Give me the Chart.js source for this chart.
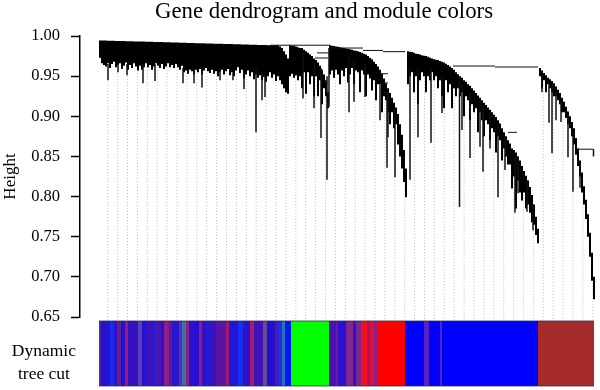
<!DOCTYPE html>
<html><head><meta charset="utf-8">
<style>html,body{margin:0;padding:0;background:#fff}canvas{display:block}</style>
<script src="https://cdn.jsdelivr.net/npm/chart.js@4"></script></head>
<body><canvas id="c" width="600" height="390"></canvas>
<script>
const chartTitle = "Gene dendrogram and module colors";
const yAxisTitle = "Height";
const stripLabel = ["Dynamic", "tree cut"];
const columnStep = 2;
// heights of the top of the dendrogram, one per column
const treeTops = [
.9945,.9944,.9943,.9943,.9942,.9941,.9941,.9940,.9939,.9939,.9938,.9937,.9937,.9936,.9935,.9935,.9934,.9933,.9933,.9932,
.9931,.9931,.9930,.9929,.9929,.9928,.9927,.9926,.9926,.9925,.9924,.9924,.9923,.9922,.9921,.9921,.9920,.9919,.9919,.9918,
.9917,.9916,.9916,.9915,.9914,.9914,.9913,.9912,.9911,.9911,.9910,.9909,.9909,.9908,.9907,.9906,.9906,.9905,.9904,.9904,
.9903,.9902,.9901,.9901,.9900,.9899,.9899,.9898,.9897,.9896,.9896,.9895,.9894,.9894,.9893,.9892,.9891,.9891,.9890,.9889,
.9889,.9888,.9887,.9887,.9886,.9886,.9885,.9885,.9884,.9884,
.987,.985,.981,.977,.972,
.9885,.988,.9875,.987,.986,.985,.985,.983,.981,.979,.977,.975,.972,.970,.967,.963,.958,.952,.945,.930,
.9885,.988,.9875,.987,.9865,.986,.9855,.985,.9845,.984,.9835,.983,.982,.9815,.981,.980,.979,.978,.977,.975,.973,.971,.968,.965,.962,
.958,.953,.947,.941,.935,.929,.923,.917,.911,.903,.890,.877,.858,.835,
.981,.9805,.980,.979,.978,.9775,.977,.976,.9755,.975,.974,.973,.972,.971,.9705,.970,.969,.968,.967,.9655,.964,.962,.960,.958,.955,.9525,.950,.948,.945,.943,.940,.938,.935,.932,.929,.926,.923,.920,.917,.914,.911,.908,.905,.902,.899,.895,.891,.885,.880,.875,.870,.866,.860,.858,.855,.850,.845,.838,.832,.826,.820,.812,.802,.790,.775,.760,
.960,.957,.954,.951,.948,.946,.944,.941,.937,.933,.929,.923,.918,.912,.906,.900,.893,.885,.873,.860,.845,.830,.813,.796,.778,.755,.730,.700];
// heights of the bottom of the dendrogram, one per column
const treeLows = [
.973,.966,.964,.962,.966,.960,.965,.968,.961,.964,.966,.959,.963,.967,.958,.964,.960,.966,.962,.957,.963,.958,.961,.966,.961,.964,.958,.962,.966,.963,.960,.965,.959,.962,.966,.961,.964,.960,.965,.961,.958,.963,.955,.957,.953,.958,.956,.952,.958,.955,.959,.952,.957,.960,.956,.954,.958,.953,.956,.950,.955,.958,.952,.956,.959,.951,.955,.950,.957,.961,.954,.958,.947,.952,.957,.950,.955,.946,.952,.948,.951,.945,.949,.943,.950,.955,.948,.952,.944,.950,
.945,.940,.935,.930,.928,
.950,.953,.948,.951,.945,.950,.935,.955,.928,.955,.940,.950,.925,.950,.925,.945,.915,.935,.925,.910,
.952,.957,.948,.958,.952,.940,.957,.950,.960,.942,.952,.960,.940,.957,.955,.930,.957,.952,.925,.952,.947,.932,.945,.920,.940,
.940,.905,.925,.920,.905,.890,.905,.885,.890,.865,.850,.835,.818,.799,
.940,.950,.955,.930,.950,.915,.945,.955,.950,.930,.950,.945,.955,.945,.950,.935,.945,.925,.910,.945,.930,.940,.910,.935,.925,.935,.925,.930,.900,.925,.920,.895,.915,.905,.910,.880,.905,.895,.875,.895,.890,.870,.885,.880,.855,.875,.870,.845,.860,.850,.840,.840,.810,.825,.785,.820,.805,.795,.805,.785,.790,.780,.768,.765,.752,.742,
.950,.935,.945,.930,.940,.935,.930,.925,.925,.920,.915,.905,.905,.898,.890,.885,.875,.865,.852,.838,.825,.805,.790,.772,.750,.725,.695,.672];
// long single branches
const spikePos = [8,18,27,43,55,83,94,102,120,133,144,156,162,165,203,214,221,227,229,249,254,265,280,287,288,295,310,318,331,342,359.5,362,370,380,383,390,398,405,415,418,427,433,442,449,452,456,461,468,473,480,493.5];
const spikeTops = [.965,.965,.965,.965,.965,.96,.96,.96,.96,.955,.955,.96,.955,.955,.98,.965,.96,.95,.985,.975,.97,.965,.94,.93,.93,.91,.96,.96,.96,.95,.945,.94,.93,.92,.915,.905,.89,.875,.85,.85,.82,.79,.955,.94,.94,.93,.92,.90,.885,.84,.859];
const spikeLows = [.945,.955,.951,.941,.944,.941,.941,.936,.945,.945,.934,.880,.920,.924,.922,.910,.873,.821,.912,.905,.918,.924,.895,.836,.874,.824,.821,.874,.867,.904,.787,.883,.848,.862,.831,.860,.799,.833,.780,.804,.781,.758,.930,.892,.854,.895,.893,.849,.806,.811,.850];
// horizontal merges: start, end, height
const mergeStart = [170,230,263,283,217,215,280,282,283,353,395,408,478];
const mergeEnd = [230,263,283,305,230,228,288,288,287,395,438,417,493.5];
const mergeHeight = [.9885,.985,.982,.9805,.979,.9726,.953,.9415,.930,.9626,.9614,.880,.859];
// dotted guide lines
const guidePos = [7.7,17.6,27.5,37.4,47.3,57.2,67.1,77,86.9,96.8,106.7,116.6,126.5,136.4,146.3,156.2,166.1,176,185.9,195.8,205.7,215.6,225.5,235.4,245.3,255.2,265.1,275,284.9,294.8,304.7,314.6,324.5,334.4,344.3,354.2,364.1,374,383.9,393.8,403.7,413.6,423.5,433.4,443.3,453.2,463.1,473,482.9,492.8];
const guideTops = [.98,.98,.98,.98,.98,.98,.98,.98,.98,.98,.98,.98,.98,.98,.98,.98,.98,.98,.975,.97,.97,.965,.93,.975,.975,.975,.97,.96,.94,.91,.83,.97,.97,.97,.96,.95,.94,.925,.915,.90,.88,.85,.825,.78,.95,.94,.915,.885,.81,.70];
// module colour runs of the Dynamic tree cut strip
const stripColors = ["#4a2aa0","#2a10d0","#1030f0","#3010c8","#602090","#2010d0","#a01870","#3510c0","#5a40b0","#2010d8","#3a10c0","#1525e0","#4a15b0","#2a10d0","#901f80","#5020a0","#2a15d0","#5a30a0","#3a70b0","#8a2080","#2a10d0",
"#2010d8","#a01870","#3010c8","#2818d0","#3a10c0","#5a15a0","#a01870","#2015d8","#1530f0","#3010c8","#a02070","#4012b8","#6a4a90","#2010d0","#5a15a0","#2030e0","#2a70c0","#0818f0",
"#00ff00","#4a10b0","#6a18a0","#3010d0","#802890","#3a10c0","#7a2890","#f01020","#a01860","#e01030","#8a2090","#ff0000","#0000ff","#5a20c0","#0000f8","#5a20c0","#0000ff","#a52a2a"];
const stripWidths = [2,9,4,3,4,4,3,10,4,3,8,3,5,3,5,3,7,3,4,3,6,
4,3,4,5,5,10,3,9,5,7,4,9,4,8,3,4,3,6,
38,7,2,8,7,3,5,6,3,4,3,28,19,5,11,2,96,56];
const stripEdges = [0,1];

const treeData = treeTops.map((t,i)=>({x:i*columnStep,y:[treeLows[i],t]}));
const spikeData = spikePos.map((p,i)=>({x:p,y:[spikeLows[i],spikeTops[i]]}));
const mergeData = [];
mergeStart.forEach((s,i)=>{mergeData.push({x:s,y:mergeHeight[i]},{x:mergeEnd[i],y:mergeHeight[i]},{x:mergeEnd[i],y:null});});
const guideData = [];
guidePos.forEach((p,i)=>{guideData.push({x:p,y:guideTops[i]},{x:p,y:.6465},{x:p,y:null});});
const stripData = [], stripFill = [];
let col = -0.5;
stripWidths.forEach((w,i)=>{for(let k=0;k<w;k++){stripData.push({x:col+k,y:[0,1]});stripFill.push(stripColors[i]);}col+=w;});
const edgeData = [];
stripEdges.forEach(e=>{edgeData.push({x:-1,y:e},{x:col-0.5,y:e},{x:col,y:null});});

const serif = "'Liberation Serif', serif";
new Chart(document.getElementById('c'),{
  type:'bar',
  data:{datasets:[
    {label:'Guides',type:'line',data:guideData,borderColor:'#bdbdbd',borderWidth:1,borderDash:[1,2],pointRadius:0,spanGaps:false,clip:false,order:5,yAxisID:'y',xAxisID:'x'},
    {label:'Branches',data:treeData,backgroundColor:'#000',barThickness:columnStep,grouped:false,inflateAmount:0,order:3,yAxisID:'y',xAxisID:'x'},
    {label:'Single branches',data:spikeData,backgroundColor:'#111',barThickness:1.5,grouped:false,inflateAmount:0,order:2,yAxisID:'y',xAxisID:'x'},
    {label:'Merges',type:'line',data:mergeData,borderColor:'#111',borderWidth:1,pointRadius:0,spanGaps:false,order:1,yAxisID:'y',xAxisID:'x'},
    {label:'Modules',data:stripData,backgroundColor:stripFill,barThickness:1,grouped:false,inflateAmount:0,order:4,yAxisID:'yStrip',xAxisID:'x'},
    {label:'Strip edge',type:'line',data:edgeData,borderColor:'rgba(40,40,70,.75)',borderWidth:1,pointRadius:0,spanGaps:false,clip:false,order:1,yAxisID:'yStrip',xAxisID:'x'}
  ]},
  options:{
    responsive:false,animation:false,
    layout:{padding:{top:0,right:0,bottom:4,left:0}},
    plugins:{
      legend:{display:false},tooltip:{enabled:false},
      title:{display:true,text:chartTitle,color:'#000',font:{family:serif,size:22.8,weight:'normal',lineHeight:1},padding:{top:1,bottom:12.2}}
    },
    scales:{
      x:{type:'linear',display:false,min:-20,max:500,offset:false},
      y:{type:'linear',position:'left',stack:'v',stackWeight:281,weight:2,min:.65,max:1,
        afterFit(s){s.width=80;s.paddingTop=0;s.paddingBottom=0;},
        title:{display:true,text:yAxisTitle,color:'#000',font:{family:serif,size:17},padding:{top:0,bottom:0}},
        border:{display:true,color:'#000',width:1.5},
        grid:{display:true,drawOnChartArea:false,drawTicks:true,tickLength:9,tickWidth:1.5,tickColor:'#000'},
        ticks:{stepSize:.05,autoSkip:false,color:'#000',font:{family:serif,size:16.5},padding:11,callback:v=>v.toFixed(2)}},
      yStrip:{type:'linear',position:'left',stack:'v',stackWeight:69,weight:1,min:0,max:1.0615,
        afterFit(s){s.width=80;s.paddingTop=0;s.paddingBottom=0;},
        afterBuildTicks(s){s.ticks=[{value:.36}];},
        border:{display:false},
        grid:{display:false,drawTicks:false},
        ticks:{autoSkip:false,color:'#000',font:{family:serif,size:17.5,lineHeight:1.3},padding:4,crossAlign:'center',callback:()=>stripLabel}}
    }
  },
  plugins:[{id:'titleOffset',afterLayout(ch){const t=ch.titleBlock;t.left+=24;t.right+=24;}}]
});
</script></body></html>
